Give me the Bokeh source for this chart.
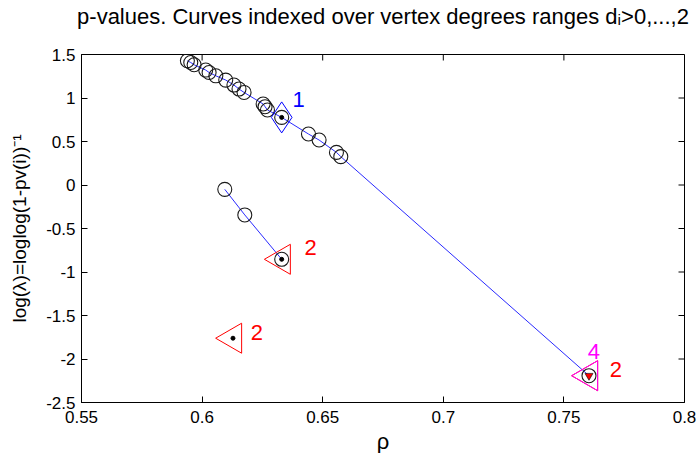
from bokeh.plotting import figure
from bokeh.models import FixedTicker, ColumnDataSource
from bokeh.core.properties import value
from bokeh.embed import file_html
from bokeh.resources import INLINE
import math

# ---- data ----
upper_rho = [0.5939, 0.5953, 0.5967, 0.6015, 0.6029, 0.6057, 0.6098, 0.6132, 0.6153, 0.6174,
             0.6253, 0.6261, 0.6271, 0.6330, 0.6441, 0.6485, 0.6557, 0.6575, 0.7604]
upper_logl = [1.428, 1.408, 1.382, 1.321, 1.293, 1.255, 1.206, 1.149, 1.103, 1.064,
              0.931, 0.900, 0.862, 0.777, 0.586, 0.517, 0.375, 0.326, -2.192]

lower_rho = [0.6094, 0.6177, 0.6330]
lower_logl = [-0.050, -0.344, -0.854]

diamond_rho = [0.6330]
diamond_logl = [0.777]
diamond_text = ["1"]

red_tri_rho = [0.6330, 0.6128, 0.7604]
red_tri_logl = [-0.854, -1.761, -2.192]
red_tri_text = ["2", "2", "2"]

mag_tri_rho = [0.7604]
mag_tri_logl = [-2.192]
mag_tri_text = ["4"]

dot_rho = [0.6330, 0.6330, 0.6128]
dot_logl = [0.777, -0.854, -1.761]

end_rho = [0.7604]
end_logl = [-2.192]

xticks = [0.55, 0.6, 0.65, 0.7, 0.75, 0.8]
xtick_labels = ["0.55", "0.6", "0.65", "0.7", "0.75", "0.8"]
yticks = [-2.5, -2.0, -1.5, -1.0, -0.5, 0.0, 0.5, 1.0, 1.5]
ytick_labels = ["-2.5", "-2", "-1.5", "-1", "-0.5", "0", "0.5", "1", "1.5"]

title_text = "p-values. Curves indexed over vertex degrees ranges d\u1d62>0,...,2"
xlabel = "\u03c1"
ylabel = "log(\u03bb)=loglog(1-pv(i))\u207b\u00b9"

FONT = "Liberation Sans"
X0, X1 = 0.55, 0.8
Y0, Y1 = -2.5, 1.5

p = figure(frame_width=603, frame_height=348,
           x_range=(X0, X1), y_range=(Y0, Y1),
           output_backend="svg", toolbar_location=None,
           min_border_left=81, min_border_right=15,
           min_border_top=52, min_border_bottom=53,
           background_fill_color="white", border_fill_color="white")

# a trailing blank line lifts the title towards the top edge, as in the reference
p.title.text = title_text + "\n "
p.title.align = "center"
p.title.text_font = FONT
p.title.text_font_size = "22px"
p.title.text_font_style = "normal"
p.title.text_color = "black"
p.title.text_line_height = 1.0
p.title.standoff = 2

p.grid.visible = False
p.outline_line_color = "black"
p.outline_line_width = 1

for ax, ticks, labels in ((p.xaxis[0], xticks, xtick_labels), (p.yaxis[0], yticks, ytick_labels)):
    ax.ticker = FixedTicker(ticks=ticks)
    ax.major_label_overrides = dict(zip(ticks, labels))
    ax.major_tick_in = 6
    ax.major_tick_out = 0
    ax.minor_tick_in = 0
    ax.minor_tick_out = 0
    ax.axis_line_color = "black"
    ax.major_tick_line_color = "black"
    ax.major_label_text_font = FONT
    ax.major_label_text_font_size = "17px"
    ax.major_label_text_color = "black"
    ax.axis_label_text_font = FONT
    ax.axis_label_text_font_style = "normal"
    ax.axis_label_text_color = "black"

p.xaxis.axis_label = xlabel
p.xaxis.axis_label_text_font_size = "22px"
p.xaxis.major_label_standoff = 8
p.xaxis.axis_label_standoff = 3
p.yaxis.axis_label = ylabel
p.yaxis.axis_label_text_font_size = "19px"
p.yaxis.major_label_standoff = 6
p.yaxis.axis_label_standoff = 13

# mirrored inward ticks on the top and right edges of the box
p.ray(x=xticks, y=[Y1] * len(xticks), length=6, length_units="screen",
      angle=-math.pi / 2, line_color="black", line_width=1)
p.ray(x=[X1] * len(yticks), y=yticks, length=6, length_units="screen",
      angle=math.pi, line_color="black", line_width=1)

BLUE = "#2a2aff"
# curves
p.line(upper_rho, upper_logl, line_color=BLUE, line_width=1)
p.line(lower_rho, lower_logl, line_color=BLUE, line_width=1)

p.scatter(upper_rho, upper_logl, marker="circle", size=14, fill_color=None,
          line_color="#1a1a1a", line_width=1.1)
p.scatter(lower_rho, lower_logl, marker="circle", size=14, fill_color=None,
          line_color="#1a1a1a", line_width=1.1)

# markers
p.scatter(diamond_rho, diamond_logl, marker="diamond", size=31, fill_color=None,
          line_color="#0000ff", line_width=1)
p.scatter(red_tri_rho, red_tri_logl, marker="triangle", size=30, angle=math.pi / 2,
          fill_color=None, line_color="#ff0000", line_width=1)
p.scatter(mag_tri_rho, mag_tri_logl, marker="triangle", size=30, angle=math.pi / 2,
          fill_color=None, line_color="#ff00ff", line_width=1)
p.scatter(dot_rho, dot_logl, marker="circle", size=4, fill_color="black", line_color="black")
p.scatter(end_rho, end_logl, marker="inverted_triangle", size=8, fill_color="#ff0000",
          line_color="black", line_width=0.6)

# labels
lab_src = ColumnDataSource(dict(
    x=diamond_rho + red_tri_rho + mag_tri_rho,
    y=diamond_logl + red_tri_logl + mag_tri_logl,
    t=diamond_text + red_tri_text + mag_tri_text,
    c=["#0000ff", "#ff0000", "#ff0000", "#ff0000", "#ff00ff"],
    dx=[17, 29, 24, 27, 5],
    dy=[-18, -12, -6, -6, -24],
))
p.text(x="x", y="y", text="t", text_color="c", x_offset="dx", y_offset="dy",
       source=lab_src, text_font=value(FONT), text_font_size="22px",
       text_align="center", text_baseline="middle")

open("out.html", "w").write(file_html(p, INLINE))
